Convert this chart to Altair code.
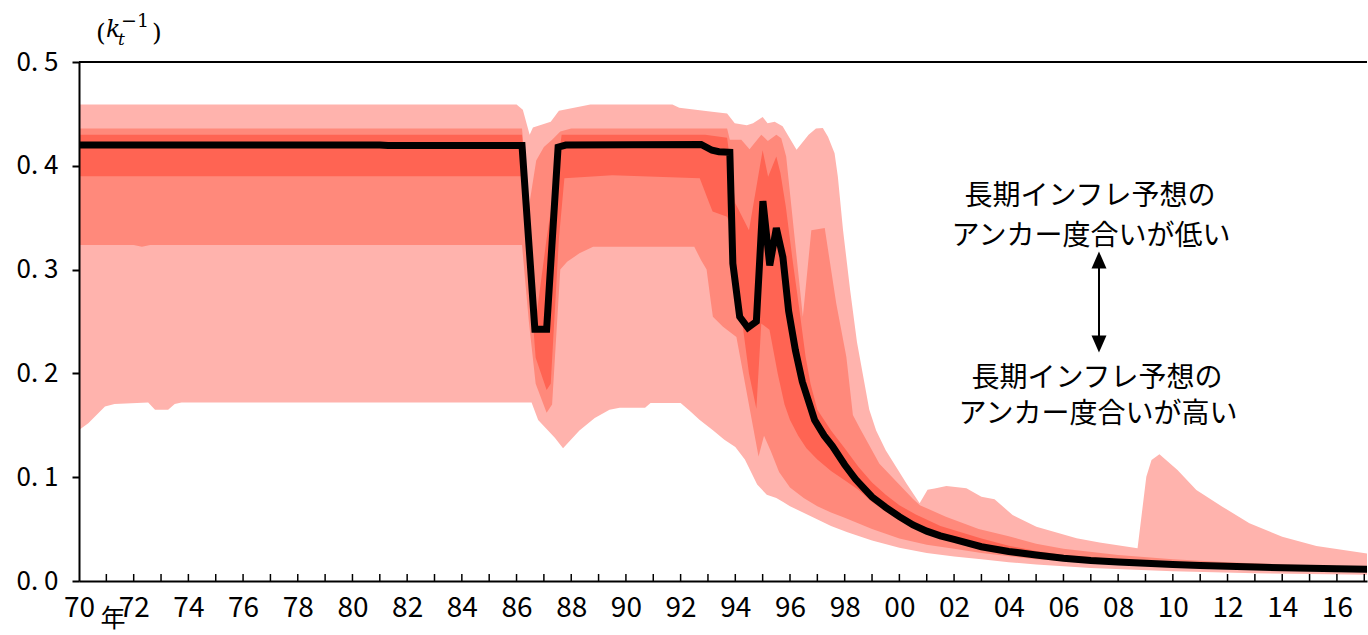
import altair as alt
import pandas as pd

# ---- data (year, value) ----
LINE_T = [1970.0, 1981.0, 1981.3, 1986.2, 1986.67, 1987.1, 1987.52, 1987.8, 1992.75, 1993.15, 1993.4, 1993.8,
          1993.91, 1994.16, 1994.46, 1994.77, 1995.01, 1995.26, 1995.5, 1995.74, 1995.95, 1996.2, 1996.45,
          1996.9, 1997.25, 1997.55, 1998.0, 1998.4, 1998.75, 1999.0, 1999.5, 2000.0, 2000.5, 2001.0, 2001.5,
          2002.0, 2003.0, 2004.0, 2005.0, 2006.0, 2007.0, 2008.0, 2009.0, 2010.0, 2011.0, 2012.0, 2013.0,
          2014.0, 2015.0, 2016.0, 2017.25]
LINE_V = [0.420, 0.420, 0.4195, 0.4195, 0.2425, 0.2425, 0.418, 0.420, 0.4205, 0.415, 0.4135, 0.413,
          0.306, 0.2546, 0.244, 0.250, 0.366, 0.304, 0.340, 0.312, 0.260, 0.222, 0.192,
          0.155, 0.140, 0.130, 0.112, 0.098, 0.088, 0.081, 0.071, 0.062, 0.054, 0.048, 0.0435,
          0.040, 0.033, 0.0285, 0.025, 0.022, 0.0198, 0.0183, 0.0172, 0.016, 0.015, 0.0142, 0.0135,
          0.0128, 0.0123, 0.0118, 0.0112]

OUTER_HI_T = [1970.0, 1986.0, 1986.23, 1986.48, 1986.6, 1987.25, 1987.55, 1988.7, 1991.7, 1991.95, 1993.15,
              1993.7, 1993.98, 1994.42, 1994.65, 1995.0, 1995.18, 1995.44, 1995.73, 1996.24, 1996.68,
              1996.95, 1997.2, 1997.39, 1997.63, 1997.75, 1997.94, 1998.2, 1998.45, 1998.9, 1999.15, 1999.5,
              2000.26, 2000.74, 2001.03, 2001.29, 2001.72, 2002.45, 2003.0, 2003.48, 2004.14, 2005.01,
              2006.48, 2007.32, 2008.71, 2009.03, 2009.22, 2009.51, 2010.17, 2010.86, 2011.81, 2012.8,
              2014.0, 2015.25, 2017.25]
OUTER_HI_V = [0.459, 0.459, 0.454, 0.430, 0.437, 0.4425, 0.453, 0.459, 0.459, 0.456, 0.452,
              0.4505, 0.441, 0.439, 0.441, 0.447, 0.441, 0.4425, 0.438, 0.4155, 0.430,
              0.436, 0.4365, 0.428, 0.412, 0.3895, 0.338, 0.280, 0.230, 0.165, 0.145, 0.126,
              0.094, 0.075, 0.088, 0.089, 0.0915, 0.0893, 0.0812, 0.0787, 0.0636, 0.0523,
              0.0411, 0.037, 0.0315, 0.1005, 0.1166, 0.122, 0.107, 0.0877, 0.0716, 0.0556,
              0.0427, 0.0337, 0.026]

MID_HI_T = [1970.0, 1986.2, 1986.45, 1986.72, 1987.0, 1987.3, 1987.6, 1988.0, 1993.7, 1993.8, 1994.22,
            1994.52, 1994.95, 1995.19, 1995.5, 1995.68, 1995.86, 1996.47, 1996.78, 1997.27, 1997.69,
            1998.06, 1998.3, 1998.54, 1999.27, 2000.5, 2000.75, 2001.7, 2002.9, 2004.0, 2005.0, 2006.0,
            2008.0, 2010.0, 2012.0, 2014.0, 2017.25]
MID_HI_V = [0.436, 0.436, 0.360, 0.405, 0.418, 0.425, 0.433, 0.436, 0.436, 0.425, 0.425,
            0.416, 0.430, 0.424, 0.430, 0.4265, 0.409, 0.2546, 0.338, 0.340, 0.2675,
            0.216, 0.160, 0.148, 0.113, 0.079, 0.073, 0.062, 0.050, 0.043, 0.036, 0.031,
            0.025, 0.021, 0.018, 0.016, 0.0135]

IN_HI_T = [1970.0, 1986.2, 1986.45, 1986.7, 1987.1, 1987.5, 1987.65, 1992.9, 1993.7, 1994.0, 1994.5,
           1995.0, 1995.2, 1995.5, 1995.65, 1995.85, 1996.08, 1996.33, 1996.57, 1996.75, 1997.0, 1997.5,
           1998.0, 1998.5, 1999.0, 1999.5, 2000.0, 2000.6, 2001.5, 2003.0, 2004.0, 2005.0, 2006.0, 2008.0,
           2010.0, 2012.0, 2014.0, 2017.25]
IN_HI_V = [0.430, 0.430, 0.340, 0.250, 0.330, 0.400, 0.430, 0.430, 0.427, 0.364, 0.338,
           0.415, 0.3895, 0.409, 0.393, 0.360, 0.312, 0.264, 0.216, 0.190, 0.165, 0.145,
           0.128, 0.110, 0.095, 0.083, 0.073, 0.064, 0.053, 0.041, 0.034, 0.029, 0.025, 0.021,
           0.018, 0.016, 0.014, 0.0122]

IN_LO_T = [1970.0, 1986.2, 1986.45, 1986.7, 1987.1, 1987.25, 1987.55, 1987.75, 1989.5, 1992.7, 1993.05,
           1993.17, 1993.7, 1993.85, 1994.0, 1994.25, 1994.5, 1994.77, 1994.95, 1995.25, 1995.55, 1995.8,
           1996.0, 1996.3, 1996.6, 1997.0, 1997.5, 1998.0, 1998.5, 1999.0, 2000.0, 2001.0, 2002.0, 2003.0,
           2005.0, 2007.0, 2010.0, 2014.0, 2017.25]
IN_LO_V = [0.390, 0.390, 0.300, 0.215, 0.184, 0.190, 0.330, 0.388, 0.391, 0.388, 0.364,
           0.356, 0.351, 0.340, 0.300, 0.250, 0.200, 0.166, 0.248, 0.242, 0.200, 0.170,
           0.155, 0.140, 0.128, 0.117, 0.106, 0.097, 0.088, 0.076, 0.058, 0.046, 0.038, 0.0315,
           0.0235, 0.019, 0.015, 0.0122, 0.0108]

MID_LO_T = [1970.0, 1972.0, 1972.3, 1972.6, 1986.2, 1986.45, 1986.7, 1987.1, 1987.3, 1987.6, 1987.85,
            1988.3, 1988.8, 1992.5, 1992.75, 1992.95, 1993.1, 1993.18, 1993.55, 1994.04, 1994.4, 1994.85,
            1995.05, 1995.3, 1995.6, 1996.0, 1996.5, 1997.0, 1997.5, 1998.0, 1999.0, 2000.0, 2001.0,
            2002.0, 2003.0, 2005.0, 2007.0, 2010.0, 2014.0, 2017.25]
MID_LO_V = [0.3237, 0.3237, 0.322, 0.3237, 0.3237, 0.250, 0.190, 0.162, 0.170, 0.300, 0.3076,
            0.3157, 0.322, 0.322, 0.309, 0.300, 0.270, 0.2546, 0.245, 0.235, 0.184, 0.120,
            0.140, 0.125, 0.105, 0.090, 0.080, 0.072, 0.066, 0.061, 0.050, 0.041, 0.035,
            0.031, 0.027, 0.021, 0.0175, 0.014, 0.0115, 0.0102]

OUTER_LO_T = [1970.0, 1970.34, 1970.95, 1971.3, 1972.53, 1972.78, 1973.26, 1973.5, 1973.75, 1986.55,
              1986.79, 1987.4, 1987.7, 1988.3, 1988.86, 1989.4, 1989.77, 1990.7, 1990.9, 1992.0, 1992.33,
              1992.7, 1993.17, 1993.6, 1994.0, 1994.35, 1994.8, 1995.15, 1995.5, 1995.75, 1996.0, 1996.8,
              1997.5, 1998.1, 1999.0, 2000.0, 2001.0, 2002.0, 2003.0, 2004.0, 2005.0, 2007.0, 2010.0,
              2013.0, 2017.25]
OUTER_LO_V = [0.1455, 0.152, 0.168, 0.1705, 0.172, 0.165, 0.165, 0.1705, 0.172, 0.172,
              0.155, 0.138, 0.128, 0.145, 0.157, 0.165, 0.167, 0.167, 0.1715, 0.1715, 0.164,
              0.155, 0.1455, 0.136, 0.129, 0.117, 0.093, 0.083, 0.080, 0.076, 0.072, 0.062,
              0.053, 0.047, 0.039, 0.032, 0.027, 0.0235, 0.021, 0.018, 0.016, 0.0125, 0.0095,
              0.0075, 0.006]

TICK_YEARS = list(range(1971, 2018))
LABEL_YEARS = list(range(1970, 2017, 2))
Y_TICKS = [0.0, 0.1, 0.2, 0.3, 0.4, 0.5]

C_LIGHT = "#FFB3AD"
C_MID = "#FF897B"
C_DARK = "#FF6453"

FONT = "Noto Sans CJK JP"
W, H = 1288, 519

xs = alt.Scale(domain=[1970, 2017.1], nice=False, zero=False)
ys = alt.Scale(domain=[0, 0.5], nice=False)

xaxis = alt.Axis(values=LABEL_YEARS, labelExpr="substring(toString(datum.value), 2, 4)",
                 tickSize=0, domain=True, domainColor="#000000", domainWidth=2, grid=False,
                 labelFont=FONT, labelFontSize=28, labelColor="#000000", labelPadding=13,
                 labelFlush=False, labelOverlap=False, title=None, zindex=1)
yaxis = alt.Axis(values=Y_TICKS, labelExpr="replace(format(datum.value, '.1f'), '.', '. ')",
                 tickSize=7, tickWidth=2, tickColor="#000000", domain=True, domainColor="#000000",
                 domainWidth=2, grid=False, labelFont=FONT, labelFontSize=26, labelColor="#000000",
                 labelPadding=14, title=None, zindex=1)

X = alt.X("t:Q", scale=xs, axis=xaxis)
Y = alt.Y("v:Q", scale=ys, axis=yaxis, stack=None)


def frame(ts, vs):
    return pd.DataFrame({"t": ts, "v": vs})


def band(ts, vs, color):
    return alt.Chart(frame(ts, vs)).mark_area(color=color, opacity=1, clip=True).encode(
        x=X, y=Y, y2=alt.datum(0))


layers = [
    band(OUTER_HI_T, OUTER_HI_V, C_LIGHT),
    band(MID_HI_T, MID_HI_V, C_MID),
    band(IN_HI_T, IN_HI_V, C_DARK),
    band(IN_LO_T, IN_LO_V, C_MID),
    band(MID_LO_T, MID_LO_V, C_LIGHT),
    band(OUTER_LO_T, OUTER_LO_V, "#FFFFFF"),
]

line = alt.Chart(frame(LINE_T, LINE_V)).mark_line(color="#000000", strokeWidth=7, clip=True).encode(x=X, y=Y)

ticks = alt.Chart(pd.DataFrame({"t": TICK_YEARS})).mark_rule(color="#000000", strokeWidth=1.5).encode(
    x=X, y=alt.value(H), y2=alt.value(H - 7))

top_rule = alt.Chart(pd.DataFrame({"a": [0]})).mark_rule(color="#000000", strokeWidth=2).encode(
    x=alt.value(0), x2=alt.value(W), y=alt.value(0))


def txt(s, x, y, size, font=FONT, style="normal", align="center", baseline="middle"):
    return alt.Chart(pd.DataFrame({"s": [s]})).mark_text(
        font=font, fontSize=size, fontStyle=style, align=align, baseline=baseline, color="#000000"
    ).encode(text="s:N", x=alt.value(x), y=alt.value(y))


annots = [
    txt("長期インフレ予想の", 1011, 135, 28),
    txt("アンカー度合いが低い", 1012, 175, 28),
    txt("長期インフレ予想の", 1018, 317, 28),
    txt("アンカー度合いが高い", 1019, 353, 28),
    txt("年", 34, 557, 25),
    txt("(", 17, -21, 25, font="DejaVu Serif", align="left", baseline="alphabetic"),
    txt("k", 27, -25, 24, font="DejaVu Serif", style="italic", align="left", baseline="alphabetic"),
    txt("t", 39, -17, 17, font="DejaVu Serif", style="italic", align="left", baseline="alphabetic"),
    txt("\u22121", 42, -35, 19, font="DejaVu Serif", align="left", baseline="alphabetic"),
    txt(")", 73, -21, 25, font="DejaVu Serif", align="left", baseline="alphabetic"),
]

shaft = alt.Chart(pd.DataFrame({"a": [0]})).mark_rule(color="#000000", strokeWidth=2).encode(
    x=alt.value(1020), y=alt.value(200), y2=alt.value(280))
head_up = alt.Chart(pd.DataFrame({"a": [0]})).mark_point(
    shape="M0,-1L-0.88,1L0.88,1Z", size=289, filled=True, color="#000000", opacity=1).encode(
    x=alt.value(1020), y=alt.value(198))
head_dn = alt.Chart(pd.DataFrame({"a": [0]})).mark_point(
    shape="M0,1L-0.88,-1L0.88,-1Z", size=289, filled=True, color="#000000", opacity=1).encode(
    x=alt.value(1020), y=alt.value(282))

chart = alt.layer(*layers, line, ticks, top_rule, shaft, head_up, head_dn, *annots).properties(
    width=W, height=H,
    autosize=alt.AutoSizeParams(type="none"),
    padding={"left": 79, "top": 62, "right": 1, "bottom": 54},
    background="#FFFFFF",
).configure_view(stroke=None)

chart.save("out.html", embed_options={"renderer": "svg", "actions": False})
